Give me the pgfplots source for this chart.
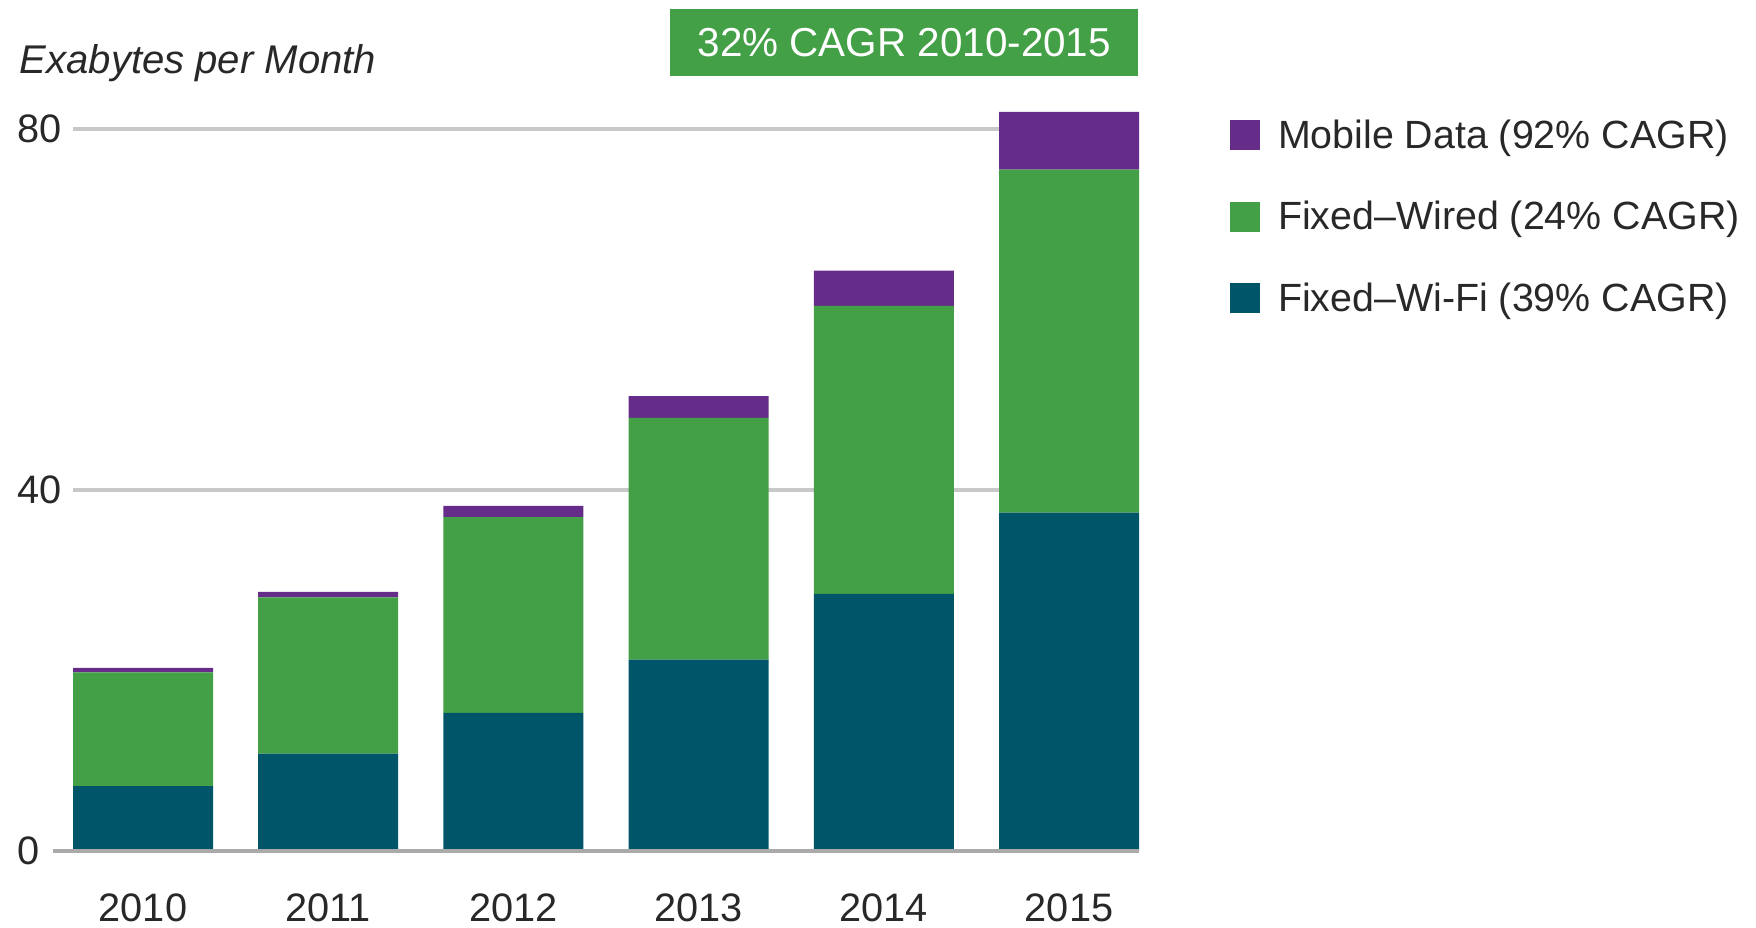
\documentclass[border=0pt]{standalone}
\usepackage{fontspec}
\setmainfont{Liberation Sans}
\usepackage{pgfplots}
\pgfplotsset{compat=1.18}
\definecolor{wifi}{RGB}{0,85,105}
\definecolor{wired}{RGB}{67,160,71}
\definecolor{mobile}{RGB}{101,45,137}
\definecolor{txt}{RGB}{40,40,40}
\definecolor{gridc}{RGB}{200,200,200}
\definecolor{basec}{RGB}{170,170,170}

\begin{document}
\begin{tikzpicture}
\path[use as bounding box] (-0.73,-0.77) rectangle (16.83,8.51);
\begin{axis}[
    scale only axis,
    clip=false,
    width=10.66cm, height=7.40cm,
    ybar stacked,
    bar width=1.40cm,
    xmin=-0.378, xmax=5.378,
    ymin=0, ymax=82,
    axis line style={draw=none},
    tick style={draw=none},
    xtick={0,1,2,3,4,5},
    xticklabels={2010,2011,2012,2013,2014,2015},
    ytick={0,40,80},
    ymajorgrids,
    grid style={gridc, line width=0.9pt},
    font=\fontsize{11.3}{13}\selectfont,
    /pgf/number format/assume math mode=true,
    ticklabel style={text=txt},
    yticklabel style={anchor=west, inner sep=0pt, xshift=-0.56cm},
    xticklabel style={anchor=north, inner sep=0pt, yshift=-0.42cm},
    legend image code/.code={\fill (0cm,-0.12cm) rectangle (0.30cm,0.18cm);},
    legend style={at={(1.0854,0.9905)}, anchor=north west, draw=none, fill=none,
        inner sep=0pt, outer sep=0pt, row sep=0.415cm, column sep=0.18cm,
        nodes={inner sep=0pt, text height=0.30cm, text depth=0.10cm, text=txt},
        font=\fontsize{11.2}{13}\selectfont},
    legend cell align=left,
    reverse legend,
]
\draw[basec, line width=0.9pt] ([xshift=-0.20cm]rel axis cs:0,0) -- (rel axis cs:1,0);
\addplot[fill=wifi, draw=none] coordinates {
    (0,7.2) (1,10.8) (2,15.3) (3,21.2) (4,28.5) (5,37.5)
};
\addplot[fill=wired, draw=none] coordinates {
    (0,12.6) (1,17.3) (2,21.7) (3,26.8) (4,31.9) (5,38.0)
};
\addplot[fill=mobile, draw=none] coordinates {
    (0,0.5) (1,0.6) (2,1.25) (3,2.4) (4,3.9) (5,6.4)
};
\legend{Fixed--Wi-Fi (39\% CAGR), Fixed--Wired (24\% CAGR), Mobile Data (92\% CAGR)}

\node[anchor=base west, inner sep=0pt, text=txt, font=\itshape\fontsize{11.4}{13}\selectfont]
    at ([xshift=-0.54cm, yshift=7.77cm]rel axis cs:0,0) {Exabytes per Month};
\node[anchor=north east, fill=wired, inner sep=0pt, minimum width=4.68cm, minimum height=0.67cm,
    text=white, font=\fontsize{11.5}{13}\selectfont]
    at ([yshift=8.43cm]rel axis cs:1,0) {32\% CAGR 2010-2015};
\end{axis}
\end{tikzpicture}
\end{document}
